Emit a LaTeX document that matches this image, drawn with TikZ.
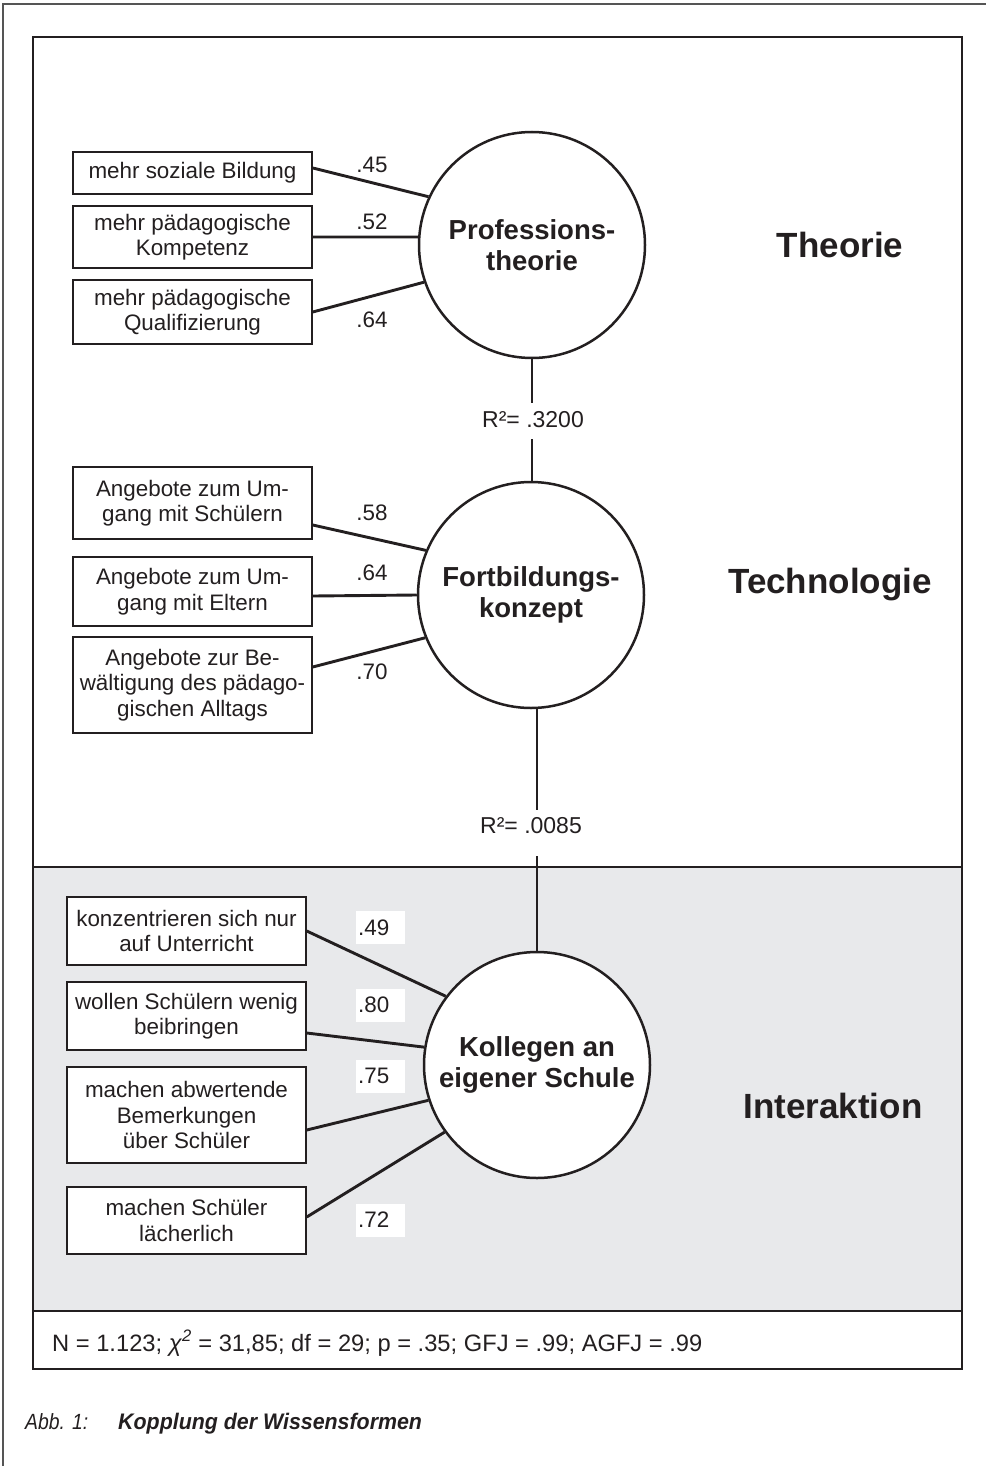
\documentclass[tikz,border=0pt]{standalone}
\usepackage{fontspec}
\usepackage{graphicx}
\setmainfont{Liberation Sans}
\definecolor{ink}{HTML}{231F20}
\definecolor{panel}{HTML}{E8E9EB}
\definecolor{rim}{HTML}{555555}
\tikzset{
  obox/.style={draw=ink, line width=1.5pt, fill=white, minimum width=239pt, inner sep=0pt, align=center, font=\fontsize{22.4}{25.5}\selectfont, text=ink},
  lat/.style={circle, draw=ink, line width=2.5pt, fill=white, minimum size=226pt, inner sep=0pt, align=center, font=\bfseries\fontsize{27.5}{31}\selectfont, text=ink},
  con/.style={draw=ink, line width=2.9pt},
  coef/.style={font=\fontsize{22.4}{25}\selectfont, text=ink, inner sep=0pt},
  wcoef/.style={fill=white, font=\fontsize{22.4}{25}\selectfont, text=ink, anchor=west, minimum width=49pt, minimum height=33pt, text width=45pt, inner xsep=2pt, inner ysep=0pt, align=left},
  rsq/.style={fill=white, font=\fontsize{23}{26}\selectfont, text=ink, inner xsep=2pt, inner ysep=0pt, anchor=base},
  sect/.style={font=\bfseries\fontsize{35}{40}\selectfont, text=ink},
  frame/.style={draw=ink, line width=2pt}
}
\begin{document}
\begin{tikzpicture}[x=1pt,y=-1pt]
\useasboundingbox (0,0) rectangle (986,1466);
% outer frame
\draw[rim, line width=1.5pt] (3,1466) -- (3,4) -- (986,4);
% panel
\fill[panel] (33,867) rectangle (962,1311);
\draw[frame] (33,37) rectangle (962,1369);
\draw[frame] (33,867) -- (962,867);
\draw[frame] (33,1311) -- (962,1311);

% latent variables
\node[lat] (P) at (532,245) {Professions-\\theorie};
\node[lat] (F) at (531,595) {Fortbildungs-\\konzept};
\node[lat] (K) at (537,1065) {Kollegen an\\eigener Schule};

% indicator boxes
\node[obox, minimum height=42pt] (B1) at (192.5,173) {mehr soziale Bildung};
\node[obox, minimum height=62pt] (B2) at (192.5,237) {mehr pädagogische\\Kompetenz};
\node[obox, minimum height=64pt] (B3) at (192.5,312) {mehr pädagogische\\Qualifizierung};
\node[obox, minimum height=72pt] (T1) at (192.5,503) {Angebote zum Um-\\gang mit Schülern};
\node[obox, minimum height=69pt] (T2) at (192.5,591.5) {Angebote zum Um-\\gang mit Eltern};
\node[obox, minimum height=96pt] (T3) at (192.5,685) {Angebote zur Be-\\wältigung des pädago-\\gischen Alltags};
\node[obox, minimum height=68pt] (I1) at (186.5,931) {konzentrieren sich nur\\auf Unterricht};
\node[obox, minimum height=68pt] (I2) at (186.5,1016) {wollen Schülern wenig\\beibringen};
\node[obox, minimum height=96pt] (I3) at (186.5,1115) {machen abwertende\\Bemerkungen\\über Schüler};
\node[obox, minimum height=67pt] (I4) at (186.5,1220.5) {machen Schüler\\lächerlich};

% connectors
\draw[con] ([yshift=5pt]B1.east) -- (P.155);
\draw[con] (B2.east) -- (P.176.5);
\draw[con] (B3.east) -- (P.199.4);
\draw[con] ([yshift=-22pt]T1.east) -- (F.157.7);
\draw[con] ([yshift=-4.5pt]T2.east) -- (F.180);
\draw[con] ([yshift=18pt]T3.east) -- (F.202.7);
\draw[con] (I1.east) -- (K.143.2);
\draw[con] ([yshift=-17pt]I2.east) -- (K.171);
\draw[con] ([yshift=-15pt]I3.east) -- (K.198.3);
\draw[con] ([yshift=3.5pt]I4.east) -- (K.216.6);
\draw[con] (P.south) -- (P.south |- F.north);
\draw[con] (K.north) -- (K.north |- F.south);

% R-squared labels
\node[rsq, text height=24pt, text depth=12pt] (R1) at (533,427) {R²= .3200};
\node[rsq, text height=23pt, text depth=23pt] (R2) at (531,833) {R²= .0085};

% coefficients
\node[coef] (c1) at (372,165) {.45};
\node[coef] (c2) at (372,222) {.52};
\node[coef] (c3) at (372,320) {.64};
\node[coef] (c4) at (372,513) {.58};
\node[coef] (c5) at (372,573) {.64};
\node[coef] (c6) at (372,672) {.70};
\node[wcoef] (c7) at (356,927.5) {.49};
\node[wcoef] (c8) at (356,1005) {.80};
\node[wcoef] (c9) at (356,1076) {.75};
\node[wcoef] (c10) at (356,1220) {.72};

% section labels
\node[sect] (s1) at (840,245) {Theorie};
\node[sect] (s2) at (830,585) {Technologie};
\node[sect] (s3) at (833,1106) {Interaktion};

% fit statistics
\node[anchor=base west, inner sep=0pt, text=ink, font=\fontsize{23.7}{26}\selectfont] (stat) at (52,1351) {N = 1.123; \textit{χ}\textsuperscript{\itshape 2} = 31,85; df = 29; p = .35; GFJ = .99; AGFJ = .99};

% caption
\node[anchor=base west, inner sep=0pt, text=ink, font=\itshape\fontsize{22}{25}\selectfont] (cap1) at (25,1429) {\scalebox{0.88}[1]{Abb. 1:}};
\node[anchor=base west, inner sep=0pt, text=ink, font=\bfseries\itshape\fontsize{22.5}{25}\selectfont] (cap2) at (118,1429) {\scalebox{0.95}[1]{Kopplung der Wissensformen}};
\end{tikzpicture}
\end{document}
